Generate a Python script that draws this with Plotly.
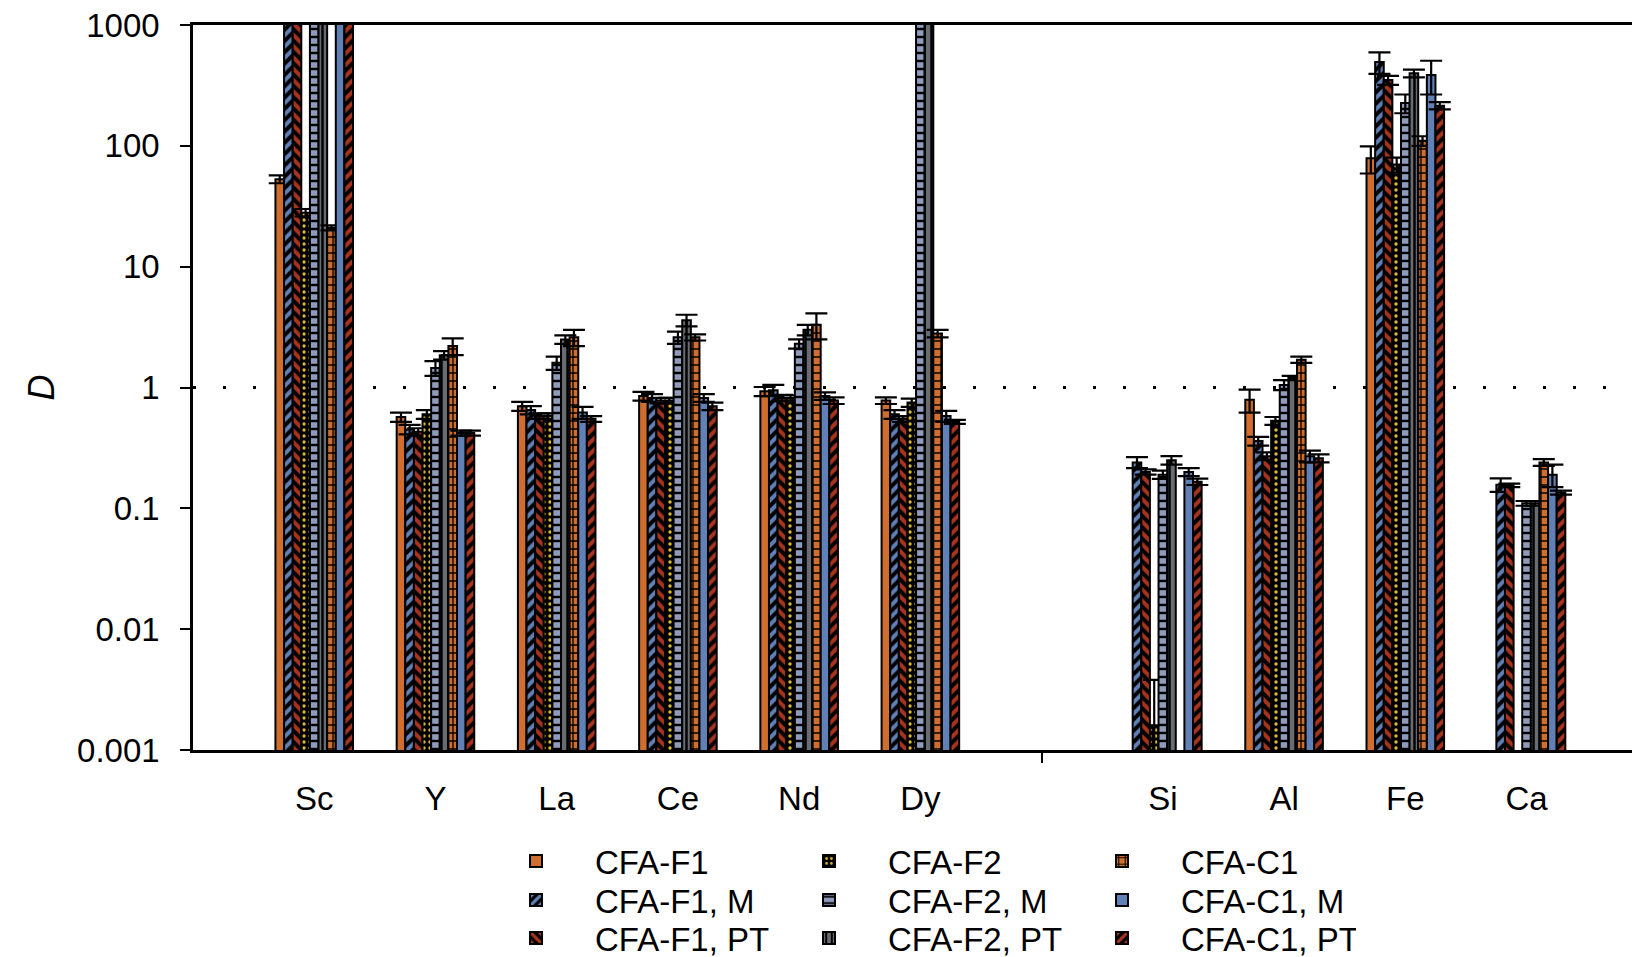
import plotly.graph_objects as go

# ---------------- data ----------------
axis_categories = ["Sc", "Y", "La", "Ce", "Nd", "Dy", " ", "Si", "Al", "Fe", "Ca"]
elements = ["Sc", "Y", "La", "Ce", "Nd", "Dy", "Si", "Al", "Fe", "Ca"]

# values above 1000 run off the top of the chart
f1 = [53, 0.57, 0.70, 0.85, 0.93, 0.78, None, 0.79, 79, None]
f1_err = [4, 0.05, 0.06, 0.07, 0.08, 0.05, None, 0.17, 20, None]
f1_m = [5000, 0.45, 0.65, 0.82, 0.95, 0.60, 0.24, 0.36, 494, 0.157]
f1_m_err = [0, 0.04, 0.05, 0.06, 0.10, 0.05, 0.025, 0.03, 100, 0.02]
f1_pt = [5000, 0.43, 0.58, 0.78, 0.82, 0.55, 0.20, 0.27, 350, 0.155]
f1_pt_err = [0, 0.03, 0.03, 0.04, 0.05, 0.03, 0.01, 0.02, 30, 0.005]
f2 = [28, 0.60, 0.58, 0.78, 0.82, 0.75, 0.0016, 0.53, 70, None]
f2_err = [2, 0.05, 0.03, 0.04, 0.04, 0.06, 0.0022, 0.04, 10, None]
f2_m = [5000, 1.45, 1.60, 2.6, 2.3, 5000, 0.19, 1.05, 226, 0.11]
f2_m_err = [0, 0.2, 0.2, 0.3, 0.2, 0, 0.015, 0.1, 40, 0.005]
f2_pt = [5000, 1.85, 2.5, 3.6, 3.0, 5000, 0.25, 1.2, 398, 0.11]
f2_pt_err = [0, 0.15, 0.2, 0.4, 0.3, 0, 0.02, 0.05, 30, 0.005]
c1 = [21, 2.2, 2.6, 2.6, 3.3, 2.8, None, 1.7, 110, 0.24]
c1_err = [1, 0.35, 0.4, 0.15, 0.8, 0.2, None, 0.1, 10, 0.015]
c1_m = [5000, 0.42, 0.62, 0.82, 0.85, 0.58, 0.20, 0.27, 386, 0.19]
c1_m_err = [0, 0.02, 0.07, 0.06, 0.06, 0.06, 0.015, 0.03, 120, 0.04]
c1_pt = [5000, 0.42, 0.55, 0.70, 0.78, 0.52, 0.166, 0.26, 215, 0.135]
c1_pt_err = [0, 0.02, 0.03, 0.05, 0.05, 0.02, 0.01, 0.02, 15, 0.005]

y_tickvals = [0.001, 0.01, 0.1, 1, 10, 100, 1000]
y_ticktext = ["0.001", "0.01", "0.1", "1", "10", "100", "1000"]

# ---------------- styling ----------------
ORANGE = "#CF6E2E"
BLUE = "#6080B6"
RED = "#A8341E"
YELLOW = "#DDBB2A"
GRAYBLUE = "#8E9BBA"
DARKGRAY = "#676B72"
FONT = "Liberation Sans, Arial, sans-serif"

series = [
    ("CFA-F1", f1, f1_err, dict(bgcolor=ORANGE, shape=""), "legend"),
    ("CFA-F1, M", f1_m, f1_m_err, dict(shape="/", bgcolor="black", fgcolor=BLUE, size=8, solidity=0.5), "legend2"),
    ("CFA-F1, PT", f1_pt, f1_pt_err, dict(shape="\\", bgcolor="black", fgcolor=RED, size=8, solidity=0.5), "legend3"),
    ("CFA-F2", f2, f2_err, dict(shape=".", bgcolor="black", fgcolor=YELLOW, size=6, solidity=0.25), "legend"),
    ("CFA-F2, M", f2_m, f2_m_err, dict(shape="-", bgcolor=GRAYBLUE, fgcolor="black", size=8, solidity=0.3), "legend2"),
    ("CFA-F2, PT", f2_pt, f2_pt_err, dict(shape="|", bgcolor=DARKGRAY, fgcolor="black", size=7, solidity=0.35), "legend3"),
    ("CFA-C1", c1, c1_err, dict(shape="+", bgcolor=ORANGE, fgcolor="black", size=8, solidity=0.3), "legend"),
    ("CFA-C1, M", c1_m, c1_m_err, dict(bgcolor=BLUE, shape=""), "legend2"),
    ("CFA-C1, PT", c1_pt, c1_pt_err, dict(shape="/", bgcolor="black", fgcolor=RED, size=8, solidity=0.5), "legend3"),
]

fig = go.Figure()
for name, vals, errs, pat, leg in series:
    solid = pat.get("shape", "") == ""
    marker = dict(line=dict(color="black", width=2), color=pat["bgcolor"])
    if not solid:
        marker["pattern"] = dict(shape=pat["shape"], bgcolor=pat["bgcolor"],
                                 fgcolor=pat["fgcolor"], size=pat["size"],
                                 solidity=pat["solidity"], fillmode="replace")
    fig.add_trace(go.Bar(
        name=name, x=elements, y=vals, marker=marker, legend=leg,
        error_y=dict(type="data", array=errs, symmetric=True, color="black",
                     thickness=2.2, width=11),
    ))

# invisible helper trace so the secondary x axis (axis-break tick) is drawn
fig.add_trace(go.Scatter(x=[" "], y=[None], xaxis="x2", yaxis="y", mode="markers",
                         showlegend=False, hoverinfo="skip"))

W, H = 1632, 957
ML, MT, MB, MR = 193, 25, 207, 0

fig.update_layout(
    width=W, height=H,
    margin=dict(l=ML, r=MR, t=MT, b=MB),
    paper_bgcolor="white", plot_bgcolor="white",
    font=dict(family=FONT, size=33, color="black"),
    barmode="group", bargap=0.36, bargroupgap=0,
    xaxis=dict(type="category", categoryorder="array", categoryarray=axis_categories,
               range=[-1, 10.87], showline=True, linecolor="black", linewidth=2.5,
               mirror=True, ticks="", showgrid=False, zeroline=False,
               tickfont=dict(size=33), ticklabelstandoff=18),
    xaxis2=dict(type="category", categoryorder="array", categoryarray=axis_categories,
                range=[-1, 10.87], overlaying="x", anchor="y", side="bottom",
                tickmode="array", tickvals=[" "], ticks="outside", ticklen=12,
                tickwidth=2, tickcolor="black", showticklabels=False,
                showline=False, showgrid=False, zeroline=False),
    yaxis=dict(type="log", range=[-3, 3], tickmode="array", tickvals=y_tickvals,
               ticktext=y_ticktext, ticks="outside", ticklen=10, tickwidth=2,
               tickcolor="black", showline=True, linecolor="black", linewidth=2.5,
               showgrid=False, zeroline=False, tickfont=dict(size=33),
               ticklabelstandoff=14,
               title=dict(text="<i>D</i>", font=dict(size=36), standoff=12)),
    shapes=[dict(type="line", xref="paper", x0=0, x1=1, yref="y", y0=1, y1=1,
                 layer="below", line=dict(color="black", width=3, dash="3px,27px"))],
)

leg_common = dict(orientation="h", xref="container", yref="container",
                  xanchor="left", yanchor="middle", itemwidth=108,
                  entrywidth=170, entrywidthmode="pixels",
                  font=dict(family=FONT, size=33, color="black"),
                  bgcolor="rgba(0,0,0,0)", borderwidth=0, traceorder="normal")
fig.update_layout(
    legend=dict(leg_common, x=477 / W, y=1 - 861 / H),
    legend2=dict(leg_common, x=477 / W, y=1 - 900 / H),
    legend3=dict(leg_common, x=477 / W, y=1 - 938 / H),
)

fig.write_html("out.html")
